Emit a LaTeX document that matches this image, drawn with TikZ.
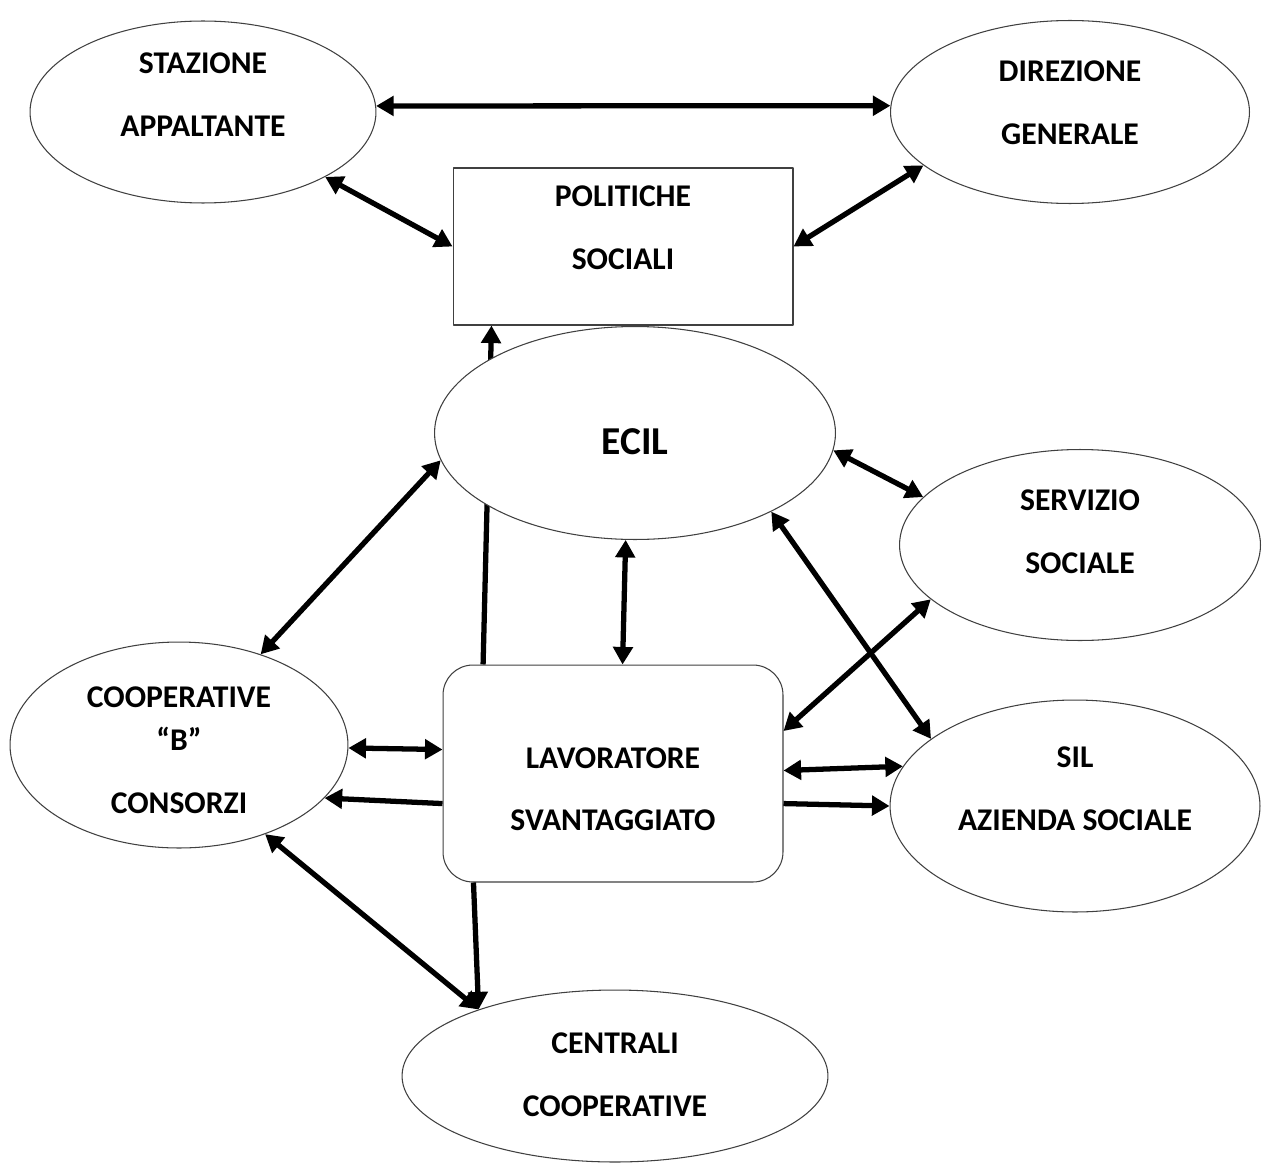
\documentclass[tikz,border=0pt]{standalone}
\usepackage{fontspec}
\setmainfont{Carlito}
\usetikzlibrary{shapes.geometric,arrows.meta,backgrounds}
\newcommand{\lines}[1]{\begin{tabular}[t]{@{}c@{}}#1\end{tabular}}

\begin{document}
\begin{tikzpicture}[x=0.02cm, y=-0.02cm, line join=round, >={Triangle[length=10pt,width=11pt]},
	font=\bfseries\fontsize{18}{35.7}\selectfont,
	oval/.style={ellipse, draw=black!75, line width=0.6pt, fill=white, inner sep=0pt, text height=0pt},
	box/.style={rectangle, draw=black!75, line width=0.6pt, fill=white, inner sep=0pt, text height=0pt},
	link/.style={line width=3pt}]
	\useasboundingbox (0,0) rectangle (1263,1162);
	% soggetti
	\node[oval, minimum width=6.92cm, minimum height=3.64cm, text depth=44pt] (stazione) at (203,112) {\lines{STAZIONE\\APPALTANTE}};
	\node[oval, minimum width=7.18cm, minimum height=3.66cm, text depth=34.9pt] (direzione) at (1070,112) {\lines{DIREZIONE\\GENERALE}};
	\node[box, minimum width=6.8cm, minimum height=3.14cm, text depth=45.7pt] (politiche) at (623,246.5) {\lines{POLITICHE\\SOCIALI}};
	\node[oval, minimum width=8.02cm, minimum height=4.26cm, text height=24.4pt, text depth=0pt, font=\bfseries\fontsize{22.5}{26}\selectfont] (ecil) at (635,433) {ECIL};
	\node[oval, minimum width=7.22cm, minimum height=3.82cm, text depth=39.4pt] (servizio) at (1080,545) {\lines{SERVIZIO\\SOCIALE}};
	\node[oval, minimum width=6.76cm, minimum height=4.12cm, text depth=42.8pt] (coop) at (179,745) {\lines{COOPERATIVE\\[-11.3pt]“B”\\CONSORZI}};
	\node[box, rounded corners=17pt, minimum width=6.8cm, minimum height=4.34cm, text depth=6pt] (lavoratore) at (613,773.5) {\lines{LAVORATORE\\SVANTAGGIATO}};
	\node[oval, minimum width=7.4cm, minimum height=4.24cm, text depth=44pt] (sil) at (1075,806) {\lines{SIL\\AZIENDA SOCIALE}};
	\node[oval, minimum width=8.52cm, minimum height=3.44cm, text depth=25.8pt] (centrali) at (615,1076) {\lines{CENTRALI\\COOPERATIVE}};
	% collegamenti
	\draw[link, <->] (stazione.2) -- (direzione.178);
	\draw[link, <->] (stazione.-28) -- (politiche.west);
	\draw[link, <->] (direzione.-160) -- (politiche.east);
	\begin{scope}[on background layer]
		\draw[link, ->] (lavoratore.140) -- (politiche.-149.5);
	\end{scope}
	\draw[link, <->] (ecil.-172) -- (coop.48);
	\draw[link, <->] (ecil.-95) -- (lavoratore.85);
	\draw[link, <->] (ecil.-5) -- (servizio.163);
	\draw[link, <->] (ecil.-30) -- (sil.155);
	\draw[link, <->] (servizio.-160) -- (lavoratore.14.4);
	\draw[link, <->] (lavoratore.1.2) -- (sil.167.4);
	\draw[link, ->] (lavoratore.-10.5) -- (sil.180);
	\draw[link, <->] (coop.-1.7) -- (lavoratore.172.8);
	\draw[link, ->] (lavoratore.-170.5) -- (coop.-20.7);
	\draw[link, <->] (coop.-46) -- (centrali.154);
	\draw[link, ->] (lavoratore.-142) -- (centrali.154);
\end{tikzpicture}
\end{document}
